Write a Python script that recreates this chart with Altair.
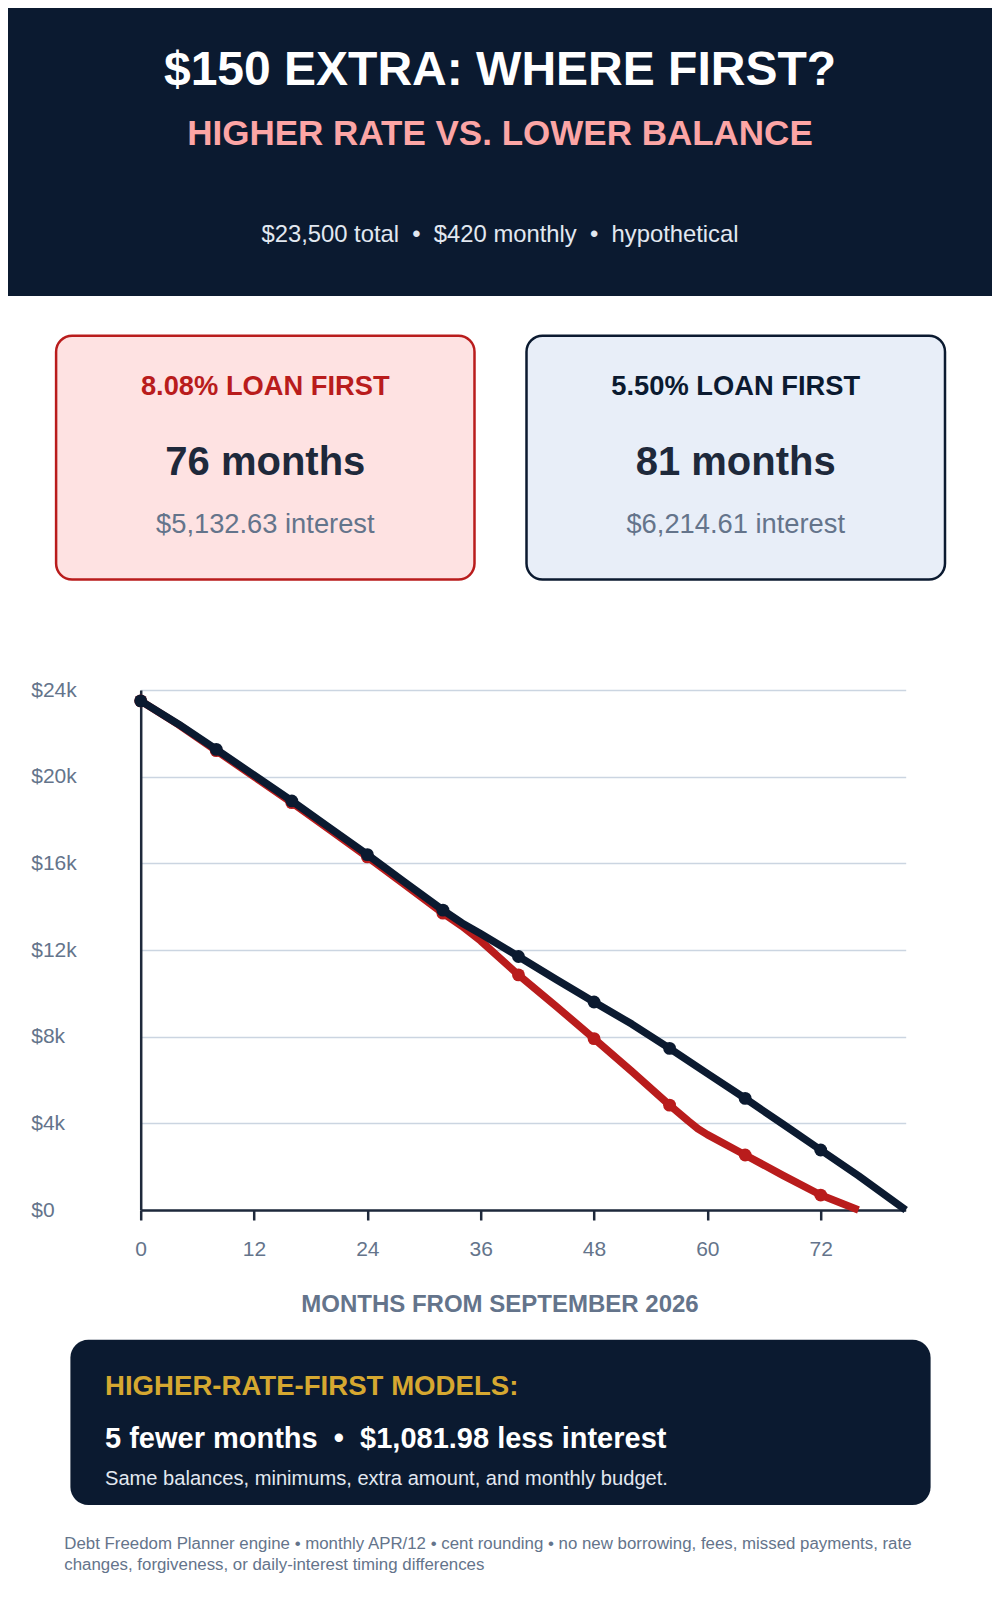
import altair as alt
import pandas as pd

# ---------------- text content ----------------
TITLE = "$150 EXTRA: WHERE FIRST?"
SUBTITLE = "HIGHER RATE VS. LOWER BALANCE"
INFO = "$23,500 total\u00a0\u00a0\u2022\u00a0\u00a0$420 monthly\u00a0\u00a0\u2022\u00a0\u00a0hypothetical"
CARD_TITLES = ["8.08% LOAN FIRST", "5.50% LOAN FIRST"]
CARD_MONTHS = ["76 months", "81 months"]
CARD_INTEREST = ["$5,132.63 interest", "$6,214.61 interest"]
X_TITLE = "MONTHS FROM SEPTEMBER 2026"
BOX_HEAD = "HIGHER-RATE-FIRST MODELS:"
BOX_MAIN = "5 fewer months\u00a0\u00a0\u2022\u00a0\u00a0$1,081.98 less interest"
BOX_SUB = "Same balances, minimums, extra amount, and monthly budget."
FOOT_1 = "Debt Freedom Planner engine \u2022 monthly APR/12 \u2022 cent rounding \u2022 no new borrowing, fees, missed payments, rate"
FOOT_2 = "changes, forgiveness, or daily-interest timing differences"

SERIES = ["8.08% loan first", "5.50% loan first"]

# ---------------- data ----------------
months_red = [0, 4, 8, 12, 16, 20, 24, 28, 32, 34, 36, 40, 44, 48, 52, 56, 58, 59, 60, 64, 68, 72, 76]
bal_red = [23500, 22400, 21200, 20000, 18800, 17550, 16300, 15000, 13700, 13100, 12420, 10850,
           9400, 7910, 6400, 4840, 4100, 3750, 3480, 2540, 1600, 690, 0]

months_black = [0, 4, 8, 12, 16, 20, 24, 28, 32, 34, 36, 40, 44, 48, 52, 56, 60, 64, 68, 72, 76, 81]
bal_black = [23500, 22420, 21260, 20070, 18880, 17640, 16400, 15120, 13840, 13250, 12750, 11700,
             10640, 9600, 8580, 7460, 6300, 5150, 3960, 2770, 1580, 0]

x_ticks = [0, 12, 24, 36, 48, 60, 72]
y_ticks = [0, 4000, 8000, 12000, 16000, 20000, 24000]

# ---------------- layout ----------------
FONT = "Liberation Sans"
NAVY = "#0b1a30"
RED = "#b91c1c"
GRAY = "#64748b"
W, H = 765, 520
OX, OY = 140.7, 690.0          # page position of the plot area's top-left corner
PAD = {"left": OX - 8, "top": OY - 8, "right": 984 - (OX - 8) - W, "bottom": 1584 - (OY - 8) - H}


def px(v):
    return v - OX


def py(v):
    return v - OY


one = pd.DataFrame({"k": [0]})


def rect(x1, x2, y1, y2, fill, stroke=None, radius=0, sw=2.5):
    kw = dict(cornerRadius=radius, fill=fill)
    if stroke:
        kw.update(stroke=stroke, strokeWidth=sw)
    return alt.Chart(one).mark_rect(**kw).encode(
        x=alt.value(px(x1)), x2=alt.value(px(x2)), y=alt.value(py(y1)), y2=alt.value(py(y2))
    )


def text(s, x, y, size, color, bold=False, align="center"):
    return alt.Chart(one).mark_text(
        font=FONT, fontSize=size, fontWeight="bold" if bold else "normal",
        color=color, align=align, baseline="alphabetic"
    ).encode(x=alt.value(px(x)), y=alt.value(py(y)), text=alt.value(s))


layers = [
    rect(8, 992, 8, 296, NAVY),
    text(TITLE, 500, 84.5, 48, "white", bold=True),
    text(SUBTITLE, 500, 144.5, 35, "#fca5a5", bold=True),
    text(INFO, 500, 241.5, 23.8, "#e2e8f0"),
    rect(56.1, 474.5, 335.7, 579.6, "#fee2e2", RED, 16),
    rect(526.5, 945, 335.7, 579.6, "#e8eef8", NAVY, 16),
]
card_cx = [265.3, 735.7]
card_title_col = [RED, NAVY]
for i in range(2):
    layers += [
        text(CARD_TITLES[i], card_cx[i], 394.5, 27.3, card_title_col[i], bold=True),
        text(CARD_MONTHS[i], card_cx[i], 475, 40, "#1e293b", bold=True),
        text(CARD_INTEREST[i], card_cx[i], 533, 27.3, GRAY),
    ]
layers += [
    text(X_TITLE, 500, 1312, 24, GRAY, bold=True),
    rect(70.4, 930.6, 1339.8, 1505, NAVY, radius=18),
    text(BOX_HEAD, 105, 1395, 27.6, "#d6a830", bold=True, align="left"),
    text(BOX_MAIN, 105, 1447.5, 29, "white", bold=True, align="left"),
    text(BOX_SUB, 105, 1485, 20.1, "#e2e8f0", align="left"),
    text(FOOT_1, 64.3, 1549, 16.85, GRAY, align="left"),
    text(FOOT_2, 64.3, 1570, 16.85, GRAY, align="left"),
]

df = pd.concat([
    pd.DataFrame({"month": months_red, "balance": bal_red, "series": SERIES[0]}),
    pd.DataFrame({"month": months_black, "balance": bal_black, "series": SERIES[1]}),
], ignore_index=True)

x_enc = alt.X("month:Q", scale=alt.Scale(domain=[0, 81], nice=False, zero=False),
              axis=alt.Axis(values=x_ticks, title=None, grid=False, labelFont=FONT, labelFontSize=21,
                            labelColor=GRAY, labelPadding=18, tickColor="#1e293b", tickWidth=2.5,
                            tickSize=10, domainColor="#1e293b", domainWidth=2.5, labelFlush=False))
y_enc = alt.Y("balance:Q", scale=alt.Scale(domain=[0, 24000], nice=False),
              axis=alt.Axis(values=y_ticks, title=None, grid=True, gridColor="#cbd5e1", gridWidth=1.5,
                            labelExpr="datum.value == 0 ? '$0' : '$' + (datum.value / 1000) + 'k'",
                            labelAlign="left", labelPadding=110, ticks=False, tickSize=0,
                            labelFont=FONT, labelFontSize=21, labelColor=GRAY,
                            domainColor="#1e293b", domainWidth=2.5, labelFlush=False))
color_enc = alt.Color("series:N", scale=alt.Scale(domain=SERIES, range=[RED, NAVY]), legend=None)

lines = alt.Chart(df).mark_line(strokeWidth=7.5, strokeJoin="round").encode(
    x=x_enc, y=y_enc, color=color_enc, order=alt.Order("month:Q")
)
points = alt.Chart(df).mark_point(filled=True, size=165, opacity=1).encode(
    x="month:Q", y="balance:Q", color=color_enc
).transform_filter("datum.month % 8 == 0")

red_line = lines.transform_filter(alt.datum.series == SERIES[0])
black_line = lines.transform_filter(alt.datum.series == SERIES[1])
red_pts = points.transform_filter(alt.datum.series == SERIES[0])
black_pts = points.transform_filter(alt.datum.series == SERIES[1])

layers += [red_line, red_pts, black_line, black_pts]

chart = alt.layer(*layers).properties(
    width=W, height=H,
    autosize=alt.AutoSizeParams(type="none"),
    padding=PAD,
).configure(background="white").configure_view(stroke=None)

chart.save("out.html", embed_options={"renderer": "svg", "actions": False})
